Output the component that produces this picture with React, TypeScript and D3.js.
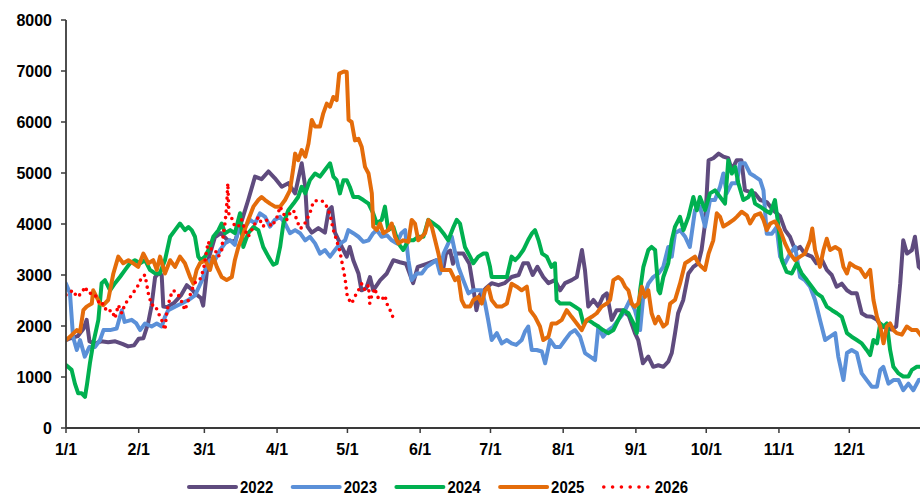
import React from 'react'
import * as d3 from 'd3'

// x = day of year (1/1 = 0), y = value
const S2022: [number, number][] = [
  [0, 1725], [2, 1760], [5, 1800], [7.5, 1950], [8.8, 2120], [10, 1700], [12, 1650], [15, 1700], [18, 1680],
  [21, 1700], [24, 1650], [26.5, 1600], [29, 1620], [31, 1750], [33, 1760], [35, 2050], [36.5, 2400],
  [38, 2960], [39.5, 3030], [40.8, 3000], [41.5, 2380], [43, 2370], [46, 2450], [49, 2600], [51.5, 2800],
  [54, 2700], [55, 2640], [57.5, 2550], [58.5, 2400], [60.6, 3290], [63.5, 3740], [66, 3820], [69, 3680],
  [72, 3650], [75, 4070], [77.7, 4470], [80.6, 4930], [83.4, 4880], [86.3, 5030], [89, 4900], [92, 4730],
  [94.8, 4800], [97.7, 4600], [100.5, 5190], [102, 4730], [103, 3950], [104.8, 3830], [107.6, 3920],
  [110.4, 3830], [112, 4270], [113.3, 4330], [114.7, 3830], [117.6, 3550], [119.7, 3360], [121, 3550],
  [122.5, 3290], [124.7, 3030], [126, 2700], [128, 2740], [129.6, 2960], [131, 2700], [134, 2900],
  [136.8, 3030], [139.6, 3290], [142.4, 3250], [145, 3220], [148, 2840], [150, 3160], [153.8, 3220],
  [158, 3290], [161, 3160], [162, 3420], [163.8, 3480], [165, 3220], [166.6, 3420], [169.4, 3420],
  [172, 3220], [173.7, 2740], [175, 2310], [176.5, 2610], [179, 2740], [181.5, 2840], [184.4, 2800],
  [187, 2840], [190, 2960], [193, 3000], [195, 3230], [197, 3230], [199, 3000], [201, 3160], [203.5, 2960],
  [205.7, 2840], [208.5, 2900], [210.7, 2700], [212.8, 2840], [215.6, 2900], [217.8, 2960], [220, 3490],
  [221.3, 3090], [222.7, 2380], [224.9, 2510], [227, 2380], [229, 2580], [230.6, 2640], [232.7, 2120],
  [234.8, 2310], [237, 2310], [240, 2200], [242.6, 1860], [244, 1725], [246, 1270], [248.3, 1400],
  [250.4, 1200], [252.6, 1230], [254.7, 1200], [256.8, 1300], [258.3, 1470], [259.7, 1860], [261, 2250],
  [263.2, 2510], [265.4, 3030], [267.5, 3160], [269.6, 3230], [271, 3490], [272.5, 4010], [274, 5250],
  [276, 5290], [278.3, 5380], [280.3, 5320], [282.4, 5290], [283.9, 5060], [286, 5250], [288, 5250],
  [289.5, 4660], [291.7, 4630], [293.8, 4600], [296, 4470], [298.8, 4430], [301.6, 4270], [304.5, 4150],
  [306.6, 3880], [308.7, 3750], [310.9, 3490], [313, 3550], [315, 3420], [318, 3360], [320, 3230],
  [322.4, 3290], [324.4, 3100], [326.5, 3000], [328.6, 2770], [330.8, 2830], [333, 2700], [335, 2640],
  [337.2, 2640], [339.3, 2250], [341.4, 2190], [343.6, 2180], [345.8, 2120], [347.8, 1990], [350, 1960],
  [352, 1930], [354, 1990], [355.7, 2830], [357, 3680], [358.6, 3420], [360.7, 3490], [362, 3750],
  [363.6, 3160], [365, 3100],
]

const S2023: [number, number][] = [
  [0, 2830], [1.7, 2640], [3, 1790], [4.6, 1530], [6, 1725], [8, 1400], [10, 1590], [12.4, 1590],
  [14.5, 1725], [16, 1920], [18.8, 1920], [21.6, 1950], [23.8, 2310], [25, 2080], [28, 2120], [30, 2050],
  [31.6, 1920], [33.7, 2050], [36.5, 1990], [38.7, 2050], [40.8, 1990], [42.2, 2180], [43.6, 2310],
  [46.5, 2380], [49.3, 2440], [52.2, 2510], [55, 2600], [58, 2900], [59.3, 3100], [61.4, 3290],
  [63.5, 3290], [65.7, 3490], [67.8, 3620], [70, 3680], [72, 3590], [74, 4010], [76.3, 3940], [78.5, 4080],
  [80.6, 4010], [82.7, 4210], [84.9, 4140], [87, 3950], [89, 4080], [91.3, 4140], [93.4, 4010],
  [95.5, 3820], [97.7, 3880], [99.8, 3820], [102, 3680], [104, 3750], [106.2, 3620], [108.3, 3420],
  [110.4, 3490], [112.6, 3360], [114.7, 3490], [117, 3620], [119, 3680], [120.4, 3880], [122.5, 3820],
  [124.7, 3750], [126.8, 3650], [129, 3680], [131, 3820], [132.5, 3880], [134.6, 3750], [136.8, 3780],
  [138.9, 3680], [141, 3620], [143, 3820], [144.6, 3880], [146, 3290], [147.4, 2900], [149.6, 3030],
  [151.7, 3030], [153.8, 3160], [156, 3230], [158, 3290], [159.5, 3030], [161, 3420], [163, 3620],
  [164.5, 3750], [166, 3420], [167.3, 3160], [169.4, 2900], [171.6, 2640], [173.7, 2700], [175.8, 2700],
  [177.3, 2700], [178.7, 2440], [180, 2120], [181.5, 1725], [183.7, 1860], [185.8, 1660], [188, 1725],
  [190, 1660], [192, 1630], [194.3, 1725], [195.7, 1890], [197.1, 1990], [198.6, 1530], [200.7, 1530],
  [202.9, 1500], [204.3, 1270], [206.4, 1725], [208.5, 1590], [210.7, 1590], [212.8, 1725], [215, 1860],
  [217, 1920], [219.2, 1790], [221.3, 1470], [223.5, 1400], [225.6, 1330], [227, 1990], [229, 1790],
  [231.3, 1920], [233.4, 1990], [235.5, 2120], [237.7, 2250], [240.5, 2510], [242.6, 2310], [244.8, 1920],
  [246, 2510], [248.3, 2830], [250.4, 2960], [252.6, 3030], [254.7, 3160], [256.8, 3550], [258.3, 3360],
  [259.7, 3820], [261.8, 3880], [264, 3750], [266, 3550], [268.2, 4270], [270.3, 4340], [272.5, 3950],
  [274.6, 4470], [276.7, 4470], [278.9, 4730], [280.3, 4990], [281.7, 4600], [283.9, 4800], [286, 4800],
  [287.4, 5190], [289.5, 5190], [291.7, 4990], [293.8, 4930], [296, 4860], [297.4, 4660], [298.8, 3810],
  [301, 3810], [303, 3940], [304.5, 3360], [306.6, 3230], [308.7, 3420], [310.9, 3550], [313, 2960],
  [315, 2900], [317.3, 2770], [319.4, 2510], [321.5, 2120], [323.7, 1725], [325.8, 1790], [328, 1860],
  [329.3, 1400], [331.5, 940], [333, 1470], [335, 1530], [337.2, 1470], [339.3, 1070], [341.4, 940],
  [343.6, 810], [345.8, 810], [347.2, 1140], [348.5, 1200], [350.7, 870], [352.8, 940], [355, 940],
  [357, 740], [359.2, 870], [361.3, 740], [363.6, 940], [365, 950],
]

const S2024: [number, number][] = [
  [0, 1235], [2.4, 1140], [3.8, 870], [5.2, 680], [6.7, 680], [8.1, 610], [9, 870], [10.2, 1270],
  [11.6, 1660], [13.8, 2120], [15.2, 2840], [16.6, 2900], [18.8, 2700], [20.9, 2840], [23, 2960],
  [25.2, 3100], [27.3, 3230], [29.4, 3290], [31.6, 3230], [33.7, 3290], [35.8, 3100], [38, 3030],
  [40, 3030], [42.2, 3290], [44.4, 3750], [46.5, 3880], [48.6, 4010], [50.7, 3880], [52.2, 3940],
  [53.6, 3880], [55, 3750], [56.4, 3360], [57.5, 3290], [59.3, 3360], [61.4, 3550], [62.8, 3750],
  [65, 3880], [66.4, 4010], [67.8, 3820], [70, 3880], [72, 3820], [74.2, 4210], [75.6, 3550], [77.7, 3820],
  [79.9, 3940], [82, 3880], [84.1, 3550], [86.3, 3360], [88.4, 3200], [89.8, 3230], [91.3, 3550],
  [92.7, 4010], [94.8, 4270], [97, 4400], [99, 4530], [100.5, 4730], [102, 4600], [104, 4860],
  [106.2, 4990], [108.3, 4930], [110.4, 5060], [112.6, 5190], [114, 4930], [115.4, 4860], [116.8, 4600],
  [118.3, 4860], [119.7, 4860], [121, 4730], [122.5, 4530], [124.7, 4530], [126.8, 4470], [129, 4400],
  [131, 4210], [132.5, 4010], [134.6, 4080], [136, 4340], [137.4, 3880], [139.6, 3940], [141.7, 3620],
  [143.8, 3490], [146, 3680], [148.1, 3680], [150.2, 3750], [152.4, 3750], [154.5, 4080], [156.6, 4010],
  [158.8, 3940], [160.9, 3820], [163, 3680], [165.2, 3940], [166.6, 4080], [168, 4010], [170.1, 3550],
  [172.3, 3360], [173.7, 3230], [175.8, 3360], [178, 3420], [179.4, 3420], [180.8, 3160], [181.5, 2960],
  [183.7, 2960], [185.8, 2960], [188, 2960], [190, 3360], [191.5, 3290], [193, 3360], [195, 3490],
  [197, 3680], [198.6, 3810], [200, 3880], [201.5, 3680], [203, 3420], [205, 3360], [207, 3160],
  [208.5, 3230], [209.2, 2510], [210.7, 2440], [212.8, 2440], [215, 2440], [217, 2380], [219.2, 2310],
  [220.6, 2050], [222.7, 2120], [224.9, 2050], [227, 1990], [229, 1920], [231.3, 1860], [233.4, 1920],
  [235.5, 2120], [237.7, 2310], [239.8, 2250], [242, 2050], [243.4, 1860], [244.8, 2700], [246.2, 3160],
  [248.3, 3490], [249.7, 3550], [251.2, 3490], [252.6, 2700], [253.3, 2640], [254.7, 2960], [256.8, 3230],
  [258.3, 3680], [259.7, 3950], [261.8, 4140], [263.3, 3880], [265.4, 4140], [267.5, 4530], [269, 4270],
  [270.3, 4530], [272.5, 4270], [274.6, 4600], [276.7, 4660], [278.9, 4530], [281, 4400], [282.4, 5250],
  [283.9, 4990], [285.3, 5120], [286.7, 4800], [288.8, 4470], [291, 4530], [292.4, 4660], [293.8, 4400],
  [296, 4340], [298.1, 4270], [300.3, 4210], [302.3, 4470], [303.8, 3950], [305.2, 3290], [307.3, 3060],
  [309.5, 3030], [311.6, 3230], [313.7, 3030], [315.9, 2900], [318, 2770], [320.1, 2640], [322.3, 2570],
  [324.4, 2380], [326.6, 2310], [328.7, 2250], [330.8, 2180], [333, 1860], [335, 1790], [337.2, 1725],
  [339.3, 1660], [341.4, 1530], [342.9, 1430], [344.3, 1725], [345.8, 1660], [347.2, 2050], [348.6, 1990],
  [350, 2050], [351.4, 1530], [352.8, 1200], [355, 1070], [357, 1010], [359.2, 1010], [360.7, 1140],
  [362.8, 1200], [365, 1200],
]

const S2025: [number, number][] = [
  [0, 1725], [2.4, 1820], [4.6, 1920], [6, 1890], [7.4, 2310], [8.8, 2380], [11, 2440], [11.6, 2700],
  [13, 2570], [14.5, 2440], [15.9, 2410], [18, 2510], [20.2, 3030], [22.3, 3360], [24.4, 3230],
  [26.6, 3290], [28.7, 3230], [30.8, 3160], [33, 3420], [35.1, 3230], [37.2, 3290], [38.7, 3100],
  [40.1, 3360], [42.2, 3030], [44.4, 3290], [46.5, 3160], [48.6, 3360], [50.7, 3230], [52.9, 2960],
  [54.3, 2830], [55.7, 3100], [57.1, 3230], [59.3, 3290], [61.4, 3100], [62.8, 3360], [64.3, 3160],
  [66.4, 2960], [68.5, 2900], [70.7, 2960], [72, 3290], [73.5, 3550], [75.6, 3810], [77.7, 4080],
  [79.9, 4340], [82, 4470], [83.4, 4530], [84.9, 4470], [87, 4400], [89.1, 4340], [91.3, 4340],
  [93.4, 4470], [95.5, 4660], [97, 5120], [97.7, 5380], [99, 5250], [100.5, 5450], [102, 5320],
  [103.4, 5580], [104.8, 6040], [106.2, 5910], [108.3, 5910], [109.7, 6170], [111.2, 6360], [112.6, 6300],
  [114, 6490], [115.4, 6430], [116.5, 6950], [118.5, 6990], [119.7, 6980], [120.5, 6040], [121.8, 6000],
  [123.2, 5640], [124.7, 5670], [126.1, 5510], [127.5, 5120], [129, 4990], [130.4, 4600], [131, 3950],
  [132.5, 3880], [133.9, 4010], [135.3, 3820], [137.4, 3880], [138.9, 4010], [140.3, 3750], [141.7, 3620],
  [143.8, 3680], [146, 3650], [147.4, 4080], [148.8, 4010], [150.2, 3680], [151.7, 3750], [153.1, 3820],
  [154.5, 4080], [156, 3940], [157.4, 3680], [158.8, 3420], [160.2, 3100], [161.6, 3100], [163.8, 3100],
  [165.9, 2900], [167.3, 2960], [168.7, 2510], [170.1, 2380], [172.3, 2380], [173.7, 2510], [175.8, 2570],
  [177.3, 2440], [178.7, 2700], [180.1, 2770], [181.5, 2510], [183.7, 2380], [185.8, 2380], [188, 2440],
  [190, 2830], [192.2, 2770], [194.3, 2700], [196.5, 2770], [197.9, 2310], [200, 2180], [202.1, 1990],
  [203.5, 1725], [205.7, 1790], [207.1, 2050], [209.2, 2050], [211.4, 2120], [213.5, 2310], [215.6, 2180],
  [217.8, 2050], [219.9, 1920], [222, 2120], [224.2, 2180], [226.3, 2250], [228.4, 2380], [230.6, 2440],
  [232, 2510], [233.4, 2900], [235.5, 2960], [237, 2900], [238.4, 2770], [239.8, 2700], [241.2, 2440],
  [242.5, 2380], [244, 2440], [245.5, 2770], [246.9, 2570], [248.3, 2700], [249.7, 2250], [251.2, 2050],
  [252.6, 2180], [254.7, 1990], [256.2, 2050], [257.6, 2440], [259.7, 2510], [261.8, 2830], [264, 3230],
  [266, 3290], [268.2, 3360], [269.6, 3230], [271, 3160], [272.5, 3100], [274, 3420], [276, 3680],
  [277.5, 4210], [278.9, 4140], [280.3, 3950], [282.4, 4010], [284.6, 4080], [286, 4140], [288.1, 4240],
  [290.3, 4170], [291.7, 4010], [293.8, 4170], [296, 4210], [297.4, 4080], [298.8, 3880], [300.3, 4010],
  [302.3, 4050], [304.5, 3880], [306.6, 3620], [308.7, 3420], [310.9, 3290], [313, 3360], [315.1, 3420],
  [317.3, 3680], [318.2, 3910], [319.4, 3490], [321.5, 3160], [323, 3490], [324.4, 3710], [325.8, 3490],
  [328, 3550], [330, 3490], [331.5, 3160], [333, 3030], [334.3, 3230], [336.5, 3160], [338.6, 3120],
  [340.8, 2960], [342.9, 3100], [344.3, 2510], [345.8, 2180], [347.2, 1990], [348.6, 1660], [350, 1990],
  [351.4, 2050], [352.8, 1920], [354.2, 1860], [356.4, 1830], [358.5, 1990], [360.7, 1920], [362.8, 1920],
  [365, 1790],
]

const S2026: [number, number][] = [
  [0, 2610], [3, 2700], [4.6, 2570], [6.7, 2640], [8.1, 2770], [9.5, 2640], [11.6, 2640], [13, 2570],
  [14.5, 2410], [15.9, 2440], [17.4, 2280], [19.5, 2310], [20.9, 2150], [22.3, 2410], [23.8, 2250],
  [25.2, 2440], [26.6, 2510], [28, 2610], [29.4, 2700], [30.8, 2800], [32.3, 2960], [33.7, 3000],
  [35.1, 2640], [36.5, 2410], [38, 2410], [39.4, 2250], [40.8, 2120], [42.2, 1920], [42.9, 2250],
  [44.4, 2570], [45.8, 2700], [47.9, 2610], [49.3, 2480], [50.7, 2310], [52.2, 2510], [53.6, 2700],
  [55, 2850], [57, 2900], [58.6, 3100], [60, 3490], [60.7, 3650], [62.1, 3490], [63.5, 3490], [65, 3360],
  [66.4, 3490], [67.1, 3810], [67.8, 4010], [68.5, 4340], [69, 4800], [69.5, 4140], [70.7, 4110],
  [72, 3950], [73.5, 3950], [74.9, 4080], [76.3, 3880], [77.7, 3750], [79.2, 3880], [80.6, 4010],
  [82, 4140], [84.1, 3950], [85.6, 4080], [87.7, 3950], [89.8, 4110], [91.3, 4340], [92.7, 4210],
  [94.1, 4080], [95.5, 4210], [97, 4270], [98.4, 4080], [99.8, 3910], [101.2, 3950], [102.6, 4080],
  [104, 4210], [105.5, 4440], [107.6, 4470], [109.7, 4440], [111.2, 4340], [112.6, 4180], [114, 3880],
  [115.4, 3680], [116.8, 3460], [118.3, 3100], [119, 2930], [119.5, 2740], [120, 2560], [121.8, 2440],
  [123.2, 2580], [124.7, 2700], [126.1, 2830], [127.5, 2700], [129, 2800], [129.5, 2440], [130.4, 2600],
  [131.8, 2740], [132.5, 2580], [134.6, 2510], [136, 2600], [136.8, 2440], [138.2, 2310], [139.6, 2150],
]

const SERIES = [
  { name: '2022', data: S2022, color: '#5F4B7E', dotted: false },
  { name: '2023', data: S2023, color: '#5B90D8', dotted: false },
  { name: '2024', data: S2024, color: '#00B050', dotted: false },
  { name: '2025', data: S2025, color: '#E46C0A', dotted: false },
  { name: '2026', data: S2026, color: '#FF0000', dotted: true },
]

const MONTH_LABELS = ['1/1', '2/1', '3/1', '4/1', '5/1', '6/1', '7/1', '8/1', '9/1', '10/1', '11/1', '12/1']
const MONTH_DAYS = [0, 31, 59, 90, 120, 151, 181, 212, 243, 273, 304, 334]
const Y_TICKS = [0, 1000, 2000, 3000, 4000, 5000, 6000, 7000, 8000]

const W = 920
const H = 495

export default function App() {
  const x = d3.scaleLinear().domain([0, 365]).range([66, 922])
  const y = d3.scaleLinear().domain([0, 8000]).range([428, 20])

  const line = d3.line<[number, number]>()
    .x(d => x(d[0]))
    .y(d => y(d[1]))

  const axisColor = '#3a3a3a'
  const font = 'Arial, "Liberation Sans", sans-serif'

  return (
    <svg width={W} height={H} style={{ position: 'absolute', left: 0, top: 0, background: '#fff' }}>
      <defs>
        <clipPath id="plot">
          <rect x={66} y={0} width={W - 66} height={430} />
        </clipPath>
      </defs>

      {/* series */}
      <g clipPath="url(#plot)">
        {SERIES.map(s => (
          <path
            key={s.name}
            d={line(s.data) || ''}
            fill="none"
            stroke={s.color}
            strokeWidth={s.dotted ? 3.6 : 4}
            strokeLinejoin="round"
            strokeLinecap="round"
            strokeDasharray={s.dotted ? '0 6.5' : undefined}
          />
        ))}
      </g>

      {/* y axis */}
      <line x1={66} x2={66} y1={y(8000)} y2={y(0)} stroke={axisColor} strokeWidth={1.8} />
      {Y_TICKS.map(t => (
        <g key={t}>
          <line x1={61} x2={66} y1={y(t)} y2={y(t)} stroke={axisColor} strokeWidth={1.5} />
          <text
            x={52}
            y={y(t)}
            dy="0.36em"
            textAnchor="end"
            fontFamily={font}
            fontWeight="bold"
            fontSize={16}
            fill="#000"
          >
            {t}
          </text>
        </g>
      ))}

      {/* x axis */}
      <line x1={66} x2={W} y1={y(0)} y2={y(0)} stroke={axisColor} strokeWidth={1.8} />
      {MONTH_DAYS.map((d, i) => (
        <g key={MONTH_LABELS[i]}>
          <line x1={x(d)} x2={x(d)} y1={y(0)} y2={y(0) + 5} stroke={axisColor} strokeWidth={1.5} />
          <text
            x={x(d)}
            y={455}
            textAnchor="middle"
            fontFamily={font}
            fontWeight="bold"
            fontSize={16}
            fill="#000"
          >
            {MONTH_LABELS[i]}
          </text>
        </g>
      ))}

      {/* legend */}
      {SERIES.map((s, i) => {
        const lx = 189 + i * 103.7
        return (
          <g key={s.name}>
            <line
              x1={lx}
              x2={lx + 47}
              y1={487}
              y2={487}
              stroke={s.color}
              strokeWidth={s.dotted ? 3.6 : 4}
              strokeLinecap="round"
              strokeDasharray={s.dotted ? '0 8.8' : undefined}
            />
            <g transform={`translate(${lx + 51},493) scale(0.88,1)`}>
              <text
                x={0}
                y={0}
                fontFamily={font}
                fontWeight="bold"
                fontSize={17}
                fill="#000"
              >
                {s.name}
              </text>
            </g>
          </g>
        )
      })}
    </svg>
  )
}
